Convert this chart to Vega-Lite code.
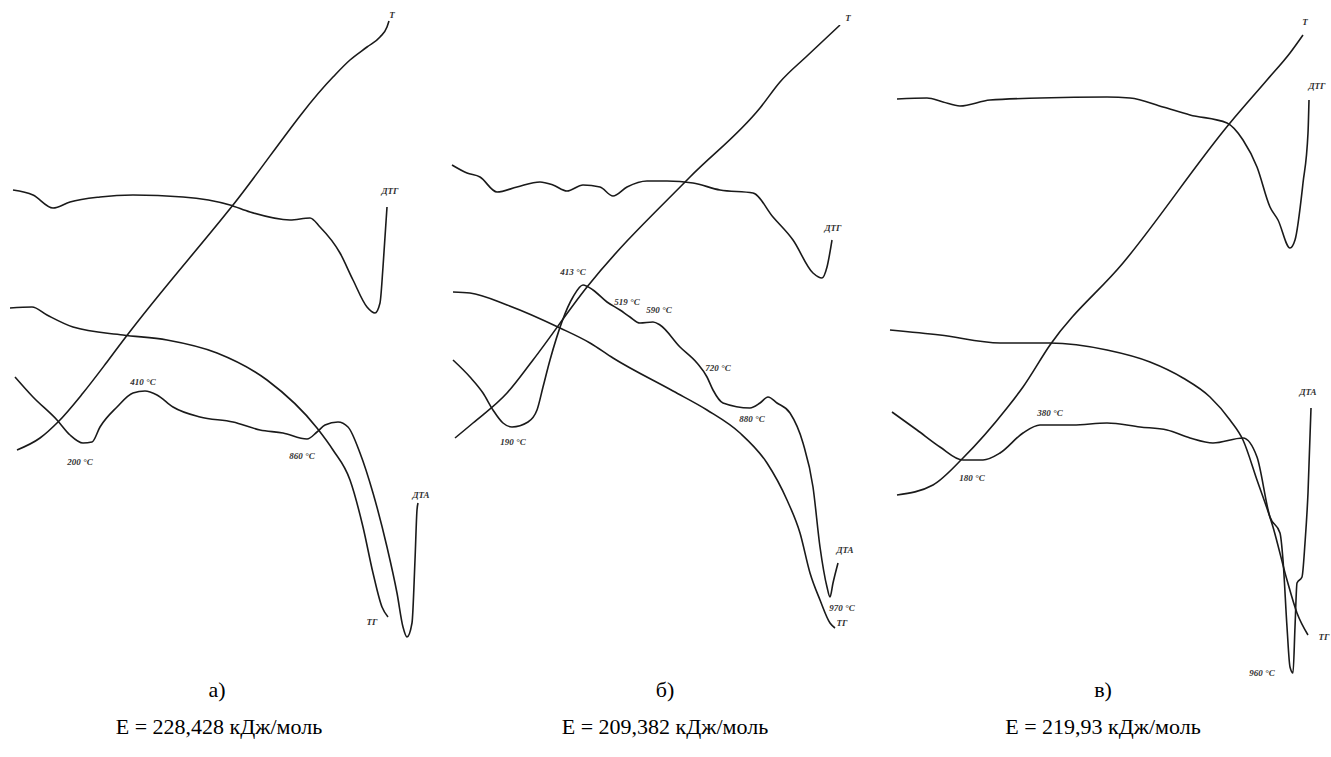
{
  "$schema": "https://vega.github.io/schema/vega-lite/v6.json",
  "background": "white",
  "padding": 0,
  "spacing": 0,
  "config": {
    "view": {"stroke": null},
    "concat": {"spacing": 0}
  },
  "datasets": {
    "a": [
      {"s":"T","x":17,"y":450},{"s":"T","x":40,"y":438},{"s":"T","x":58,"y":422},{"s":"T","x":83,"y":393},{"s":"T","x":107,"y":362},{"s":"T","x":125,"y":338},{"s":"T","x":233,"y":205},{"s":"T","x":333,"y":77},{"s":"T","x":350,"y":60},{"s":"T","x":367,"y":47},{"s":"T","x":380,"y":37},{"s":"T","x":387,"y":27},{"s":"T","x":389,"y":21},
      {"s":"DTG","x":13,"y":190},{"s":"DTG","x":33,"y":195},{"s":"DTG","x":53,"y":208},{"s":"DTG","x":70,"y":202},{"s":"DTG","x":100,"y":197},{"s":"DTG","x":133,"y":195},{"s":"DTG","x":183,"y":197},{"s":"DTG","x":230,"y":205},{"s":"DTG","x":250,"y":212},{"s":"DTG","x":290,"y":220},{"s":"DTG","x":310,"y":218},{"s":"DTG","x":320,"y":227},{"s":"DTG","x":340,"y":253},{"s":"DTG","x":353,"y":280},{"s":"DTG","x":367,"y":307},{"s":"DTG","x":375,"y":313},{"s":"DTG","x":380,"y":303},{"s":"DTG","x":383,"y":267},{"s":"DTG","x":387,"y":207},
      {"s":"TG","x":10,"y":308},{"s":"TG","x":32,"y":307},{"s":"TG","x":47,"y":315},{"s":"TG","x":73,"y":327},{"s":"TG","x":123,"y":335},{"s":"TG","x":167,"y":340},{"s":"TG","x":217,"y":353},{"s":"TG","x":267,"y":380},{"s":"TG","x":317,"y":428},{"s":"TG","x":333,"y":450},{"s":"TG","x":350,"y":480},{"s":"TG","x":363,"y":527},{"s":"TG","x":373,"y":573},{"s":"TG","x":382,"y":607},{"s":"TG","x":388,"y":617},
      {"s":"DTA","x":15,"y":377},{"s":"DTA","x":33,"y":397},{"s":"DTA","x":57,"y":420},{"s":"DTA","x":70,"y":435},{"s":"DTA","x":83,"y":443},{"s":"DTA","x":92,"y":442},{"s":"DTA","x":100,"y":427},{"s":"DTA","x":117,"y":407},{"s":"DTA","x":133,"y":393},{"s":"DTA","x":145,"y":391},{"s":"DTA","x":157,"y":395},{"s":"DTA","x":173,"y":407},{"s":"DTA","x":200,"y":417},{"s":"DTA","x":233,"y":422},{"s":"DTA","x":260,"y":430},{"s":"DTA","x":283,"y":433},{"s":"DTA","x":307,"y":439},{"s":"DTA","x":317,"y":432},{"s":"DTA","x":325,"y":425},{"s":"DTA","x":338,"y":422},{"s":"DTA","x":348,"y":427},{"s":"DTA","x":360,"y":453},{"s":"DTA","x":373,"y":493},{"s":"DTA","x":387,"y":547},{"s":"DTA","x":397,"y":593},{"s":"DTA","x":403,"y":627},{"s":"DTA","x":407,"y":637},{"s":"DTA","x":412,"y":623},{"s":"DTA","x":415,"y":560},{"s":"DTA","x":417,"y":510},{"s":"DTA","x":418,"y":503}
    ],
    "a_lab": [
      {"x":392,"y":15,"t":"T"},{"x":390,"y":191,"t":"ДТГ"},{"x":372,"y":622,"t":"ТГ"},{"x":421,"y":495,"t":"ДТА"},
      {"x":143,"y":382,"t":"410 °C"},{"x":80,"y":462,"t":"200 °C"},{"x":302,"y":456,"t":"860 °C"}
    ],
    "b": [
      {"s":"T","x":455,"y":438},{"s":"T","x":473,"y":423},{"s":"T","x":507,"y":393},{"s":"T","x":533,"y":360},{"s":"T","x":587,"y":287},{"s":"T","x":690,"y":177},{"s":"T","x":760,"y":108},{"s":"T","x":780,"y":82},{"s":"T","x":807,"y":56},{"s":"T","x":840,"y":25},
      {"s":"DTG","x":452,"y":165},{"s":"DTG","x":467,"y":173},{"s":"DTG","x":480,"y":177},{"s":"DTG","x":497,"y":192},{"s":"DTG","x":517,"y":187},{"s":"DTG","x":540,"y":182},{"s":"DTG","x":553,"y":185},{"s":"DTG","x":567,"y":191},{"s":"DTG","x":583,"y":185},{"s":"DTG","x":600,"y":187},{"s":"DTG","x":613,"y":196},{"s":"DTG","x":627,"y":187},{"s":"DTG","x":647,"y":181},{"s":"DTG","x":667,"y":181},{"s":"DTG","x":693,"y":183},{"s":"DTG","x":720,"y":190},{"s":"DTG","x":753,"y":193},{"s":"DTG","x":773,"y":217},{"s":"DTG","x":793,"y":240},{"s":"DTG","x":813,"y":273},{"s":"DTG","x":822,"y":278},{"s":"DTG","x":827,"y":267},{"s":"DTG","x":832,"y":240},
      {"s":"TG","x":453,"y":292},{"s":"TG","x":470,"y":293},{"s":"TG","x":507,"y":305},{"s":"TG","x":560,"y":328},{"s":"TG","x":590,"y":343},{"s":"TG","x":613,"y":358},{"s":"TG","x":673,"y":391},{"s":"TG","x":707,"y":410},{"s":"TG","x":740,"y":433},{"s":"TG","x":767,"y":463},{"s":"TG","x":787,"y":500},{"s":"TG","x":800,"y":533},{"s":"TG","x":810,"y":573},{"s":"TG","x":820,"y":600},{"s":"TG","x":830,"y":623},{"s":"TG","x":835,"y":628},
      {"s":"DTA","x":453,"y":360},{"s":"DTA","x":470,"y":377},{"s":"DTA","x":483,"y":393},{"s":"DTA","x":493,"y":410},{"s":"DTA","x":503,"y":423},{"s":"DTA","x":512,"y":427},{"s":"DTA","x":528,"y":422},{"s":"DTA","x":537,"y":410},{"s":"DTA","x":543,"y":387},{"s":"DTA","x":550,"y":360},{"s":"DTA","x":573,"y":297},{"s":"DTA","x":583,"y":285},{"s":"DTA","x":593,"y":290},{"s":"DTA","x":607,"y":302},{"s":"DTA","x":620,"y":310},{"s":"DTA","x":630,"y":317},{"s":"DTA","x":640,"y":323},{"s":"DTA","x":653,"y":322},{"s":"DTA","x":660,"y":325},{"s":"DTA","x":680,"y":347},{"s":"DTA","x":697,"y":363},{"s":"DTA","x":707,"y":377},{"s":"DTA","x":713,"y":390},{"s":"DTA","x":723,"y":403},{"s":"DTA","x":750,"y":408},{"s":"DTA","x":760,"y":403},{"s":"DTA","x":768,"y":397},{"s":"DTA","x":777,"y":403},{"s":"DTA","x":790,"y":413},{"s":"DTA","x":803,"y":443},{"s":"DTA","x":813,"y":487},{"s":"DTA","x":820,"y":547},{"s":"DTA","x":827,"y":587},{"s":"DTA","x":830,"y":597},{"s":"DTA","x":833,"y":583},{"s":"DTA","x":838,"y":563}
    ],
    "b_lab": [
      {"x":848,"y":18,"t":"T"},{"x":833,"y":228,"t":"ДТГ"},{"x":845,"y":550,"t":"ДТА"},{"x":842,"y":623,"t":"ТГ"},
      {"x":573,"y":272,"t":"413 °C"},{"x":627,"y":302,"t":"519 °C"},{"x":659,"y":310,"t":"590 °C"},{"x":718,"y":368,"t":"720 °C"},{"x":752,"y":419,"t":"880 °C"},{"x":513,"y":442,"t":"190 °C"},{"x":842,"y":608,"t":"970 °C"}
    ],
    "c": [
      {"s":"T","x":887,"y":495},{"s":"T","x":923,"y":485},{"s":"T","x":953,"y":458},{"s":"T","x":997,"y":408},{"s":"T","x":1013,"y":387},{"s":"T","x":1040,"y":345},{"s":"T","x":1113,"y":263},{"s":"T","x":1220,"y":123},{"s":"T","x":1257,"y":80},{"s":"T","x":1280,"y":53},{"s":"T","x":1293,"y":35},
      {"s":"DTG","x":887,"y":99},{"s":"DTG","x":917,"y":98},{"s":"DTG","x":933,"y":102},{"s":"DTG","x":950,"y":106},{"s":"DTG","x":980,"y":100},{"s":"DTG","x":1030,"y":98},{"s":"DTG","x":1097,"y":97},{"s":"DTG","x":1120,"y":98},{"s":"DTG","x":1153,"y":107},{"s":"DTG","x":1180,"y":115},{"s":"DTG","x":1217,"y":123},{"s":"DTG","x":1233,"y":140},{"s":"DTG","x":1247,"y":167},{"s":"DTG","x":1260,"y":207},{"s":"DTG","x":1268,"y":220},{"s":"DTG","x":1280,"y":248},{"s":"DTG","x":1285,"y":240},{"s":"DTG","x":1293,"y":183},{"s":"DTG","x":1298,"y":133},{"s":"DTG","x":1299,"y":100},
      {"s":"TG","x":880,"y":330},{"s":"TG","x":930,"y":335},{"s":"TG","x":990,"y":343},{"s":"TG","x":1040,"y":343},{"s":"TG","x":1097,"y":350},{"s":"TG","x":1140,"y":362},{"s":"TG","x":1173,"y":378},{"s":"TG","x":1200,"y":397},{"s":"TG","x":1220,"y":420},{"s":"TG","x":1233,"y":440},{"s":"TG","x":1247,"y":480},{"s":"TG","x":1263,"y":527},{"s":"TG","x":1277,"y":580},{"s":"TG","x":1287,"y":613},{"s":"TG","x":1298,"y":635},
      {"s":"DTA","x":882,"y":412},{"s":"DTA","x":907,"y":430},{"s":"DTA","x":930,"y":447},{"s":"DTA","x":953,"y":460},{"s":"DTA","x":973,"y":460},{"s":"DTA","x":990,"y":453},{"s":"DTA","x":1013,"y":433},{"s":"DTA","x":1030,"y":425},{"s":"DTA","x":1063,"y":425},{"s":"DTA","x":1097,"y":423},{"s":"DTA","x":1130,"y":427},{"s":"DTA","x":1157,"y":430},{"s":"DTA","x":1180,"y":438},{"s":"DTA","x":1203,"y":443},{"s":"DTA","x":1233,"y":438},{"s":"DTA","x":1247,"y":457},{"s":"DTA","x":1260,"y":517},{"s":"DTA","x":1270,"y":533},{"s":"DTA","x":1273,"y":560},{"s":"DTA","x":1277,"y":627},{"s":"DTA","x":1280,"y":667},{"s":"DTA","x":1283,"y":673},{"s":"DTA","x":1285,"y":627},{"s":"DTA","x":1287,"y":583},{"s":"DTA","x":1292,"y":577},{"s":"DTA","x":1295,"y":543},{"s":"DTA","x":1298,"y":493},{"s":"DTA","x":1301,"y":408}
    ],
    "c_lab": [
      {"x":1295,"y":22,"t":"T"},{"x":1307,"y":86,"t":"ДТГ"},{"x":1298,"y":392,"t":"ДТА"},{"x":1314,"y":637,"t":"ТГ"},
      {"x":1040,"y":413,"t":"380 °C"},{"x":962,"y":478,"t":"180 °C"},{"x":1252,"y":673,"t":"960 °C"}
    ],
    "a_cap": [{"x":217,"y":690,"t":"а)"},{"x":219,"y":727,"t":"E = 228,428 кДж/моль"}],
    "b_cap": [{"x":665,"y":690,"t":"б)"},{"x":665,"y":727,"t":"E = 209,382 кДж/моль"}],
    "c_cap": [{"x":1093,"y":690,"t":"в)"},{"x":1093,"y":727,"t":"E = 219,93 кДж/моль"}]
  },
  "hconcat": [
    {
      "width": 443, "height": 757,
      "layer": [
        {"data": {"name": "a"}, "mark": {"type": "line", "color": "#1a1a1a", "strokeWidth": 1.6, "interpolate": "monotone"},
         "encoding": {"x": {"field": "x", "type": "quantitative", "scale": {"domain": [0, 443], "nice": false, "zero": false}, "axis": null},
                      "y": {"field": "y", "type": "quantitative", "scale": {"domain": [0, 757], "nice": false, "reverse": true}, "axis": null},
                      "detail": {"field": "s"}}},
        {"data": {"name": "a_lab"}, "mark": {"type": "text", "font": "Times New Roman, Liberation Serif, DejaVu Serif, serif", "fontStyle": "italic", "fontWeight": "bold", "fontSize": 9, "color": "#333"},
         "encoding": {"x": {"field": "x", "type": "quantitative", "scale": {"domain": [0, 443], "nice": false, "zero": false}, "axis": null},
                      "y": {"field": "y", "type": "quantitative", "scale": {"domain": [0, 757], "nice": false, "reverse": true}, "axis": null},
                      "text": {"field": "t"}}},
        {"data": {"name": "a_cap"}, "mark": {"type": "text", "font": "Times New Roman, Liberation Serif, DejaVu Serif, serif", "fontSize": 22, "color": "#000", "baseline": "middle"},
         "encoding": {"x": {"field": "x", "type": "quantitative", "scale": {"domain": [0, 443], "nice": false, "zero": false}, "axis": null},
                      "y": {"field": "y", "type": "quantitative", "scale": {"domain": [0, 757], "nice": false, "reverse": true}, "axis": null},
                      "text": {"field": "t"}}}
      ]
    },
    {
      "width": 443, "height": 757,
      "layer": [
        {"data": {"name": "b"}, "mark": {"type": "line", "color": "#1a1a1a", "strokeWidth": 1.6, "interpolate": "monotone"},
         "encoding": {"x": {"field": "x", "type": "quantitative", "scale": {"domain": [443, 886], "nice": false, "zero": false}, "axis": null},
                      "y": {"field": "y", "type": "quantitative", "scale": {"domain": [0, 757], "nice": false, "reverse": true}, "axis": null},
                      "detail": {"field": "s"}}},
        {"data": {"name": "b_lab"}, "mark": {"type": "text", "font": "Times New Roman, Liberation Serif, DejaVu Serif, serif", "fontStyle": "italic", "fontWeight": "bold", "fontSize": 9, "color": "#333"},
         "encoding": {"x": {"field": "x", "type": "quantitative", "scale": {"domain": [443, 886], "nice": false, "zero": false}, "axis": null},
                      "y": {"field": "y", "type": "quantitative", "scale": {"domain": [0, 757], "nice": false, "reverse": true}, "axis": null},
                      "text": {"field": "t"}}},
        {"data": {"name": "b_cap"}, "mark": {"type": "text", "font": "Times New Roman, Liberation Serif, DejaVu Serif, serif", "fontSize": 22, "color": "#000", "baseline": "middle"},
         "encoding": {"x": {"field": "x", "type": "quantitative", "scale": {"domain": [443, 886], "nice": false, "zero": false}, "axis": null},
                      "y": {"field": "y", "type": "quantitative", "scale": {"domain": [0, 757], "nice": false, "reverse": true}, "axis": null},
                      "text": {"field": "t"}}}
      ]
    },
    {
      "width": 443, "height": 757,
      "layer": [
        {"data": {"name": "c"}, "mark": {"type": "line", "color": "#1a1a1a", "strokeWidth": 1.6, "interpolate": "monotone"},
         "encoding": {"x": {"field": "x", "type": "quantitative", "scale": {"domain": [886, 1329], "nice": false, "zero": false}, "axis": null},
                      "y": {"field": "y", "type": "quantitative", "scale": {"domain": [0, 757], "nice": false, "reverse": true}, "axis": null},
                      "detail": {"field": "s"}}},
        {"data": {"name": "c_lab"}, "mark": {"type": "text", "font": "Times New Roman, Liberation Serif, DejaVu Serif, serif", "fontStyle": "italic", "fontWeight": "bold", "fontSize": 9, "color": "#333"},
         "encoding": {"x": {"field": "x", "type": "quantitative", "scale": {"domain": [886, 1329], "nice": false, "zero": false}, "axis": null},
                      "y": {"field": "y", "type": "quantitative", "scale": {"domain": [0, 757], "nice": false, "reverse": true}, "axis": null},
                      "text": {"field": "t"}}},
        {"data": {"name": "c_cap"}, "mark": {"type": "text", "font": "Times New Roman, Liberation Serif, DejaVu Serif, serif", "fontSize": 22, "color": "#000", "baseline": "middle"},
         "encoding": {"x": {"field": "x", "type": "quantitative", "scale": {"domain": [886, 1329], "nice": false, "zero": false}, "axis": null},
                      "y": {"field": "y", "type": "quantitative", "scale": {"domain": [0, 757], "nice": false, "reverse": true}, "axis": null},
                      "text": {"field": "t"}}}
      ]
    }
  ]
}
